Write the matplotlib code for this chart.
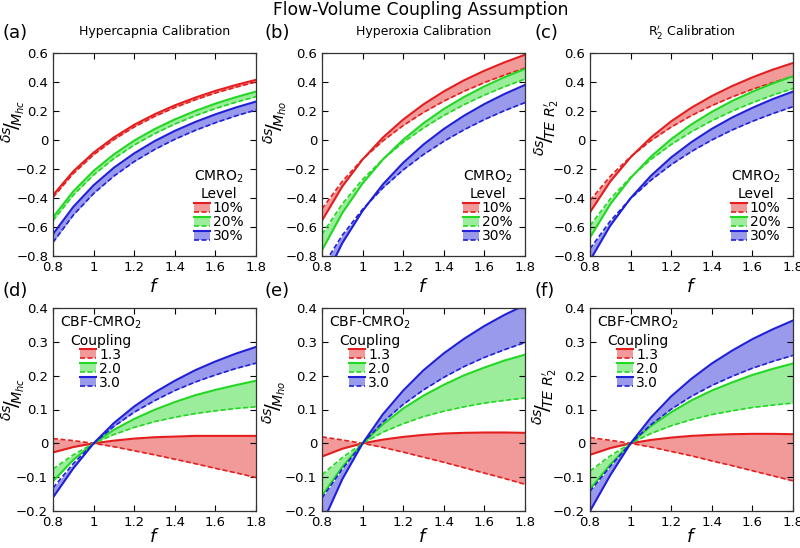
import matplotlib
matplotlib.use("Agg")
import matplotlib.pyplot as plt
from matplotlib.ticker import FuncFormatter, MultipleLocator
from matplotlib.legend_handler import HandlerBase
from matplotlib.patches import Rectangle
from matplotlib.lines import Line2D

plt.rcParams['font.family'] = ['DejaVu Sans']
plt.rcParams['mathtext.fontset'] = 'dejavusans'

# ---------------- data ----------------
f_vals = [0.8, 0.9, 1.0, 1.1, 1.2, 1.3, 1.4, 1.5, 1.6, 1.7, 1.8]

# (a) Hypercapnia calibration, CMRO2 level 10/20/30 %
a_red_solid = [-0.380, -0.216, -0.087, 0.018, 0.105, 0.177, 0.239, 0.292, 0.339, 0.379, 0.415]
a_red_dash = [-0.395, -0.231, -0.102, 0.003, 0.090, 0.162, 0.224, 0.277, 0.324, 0.364, 0.400]
a_green_solid = [-0.533, -0.354, -0.213, -0.099, -0.004, 0.075, 0.142, 0.200, 0.251, 0.295, 0.334]
a_green_dash = [-0.556, -0.380, -0.241, -0.128, -0.035, 0.043, 0.110, 0.167, 0.217, 0.260, 0.299]
a_blue_solid = [-0.649, -0.461, -0.312, -0.191, -0.092, -0.008, 0.063, 0.124, 0.177, 0.224, 0.265]
a_blue_dash = [-0.706, -0.518, -0.369, -0.249, -0.149, -0.066, 0.005, 0.066, 0.119, 0.166, 0.207]

# (b) Hyperoxia calibration
b_red_solid = [-0.556, -0.320, -0.134, 0.017, 0.141, 0.246, 0.335, 0.412, 0.478, 0.536, 0.588]
b_red_dash = [-0.475, -0.285, -0.132, -0.006, 0.100, 0.190, 0.268, 0.336, 0.396, 0.449, 0.496]
b_green_solid = [-0.760, -0.503, -0.299, -0.134, 0.002, 0.116, 0.214, 0.297, 0.370, 0.434, 0.490]
b_green_dash = [-0.650, -0.441, -0.272, -0.133, -0.016, 0.083, 0.169, 0.244, 0.310, 0.368, 0.420]
b_blue_solid = [-0.995, -0.711, -0.488, -0.306, -0.157, -0.031, 0.076, 0.168, 0.248, 0.318, 0.380]
b_blue_dash = [-0.879, -0.657, -0.478, -0.330, -0.206, -0.100, -0.009, 0.071, 0.141, 0.203, 0.258]

# (c) R2' calibration
c_red_solid = [-0.498, -0.286, -0.119, 0.017, 0.129, 0.223, 0.303, 0.372, 0.432, 0.485, 0.531]
c_red_dash = [-0.417, -0.250, -0.115, -0.004, 0.089, 0.169, 0.237, 0.297, 0.350, 0.396, 0.438]
c_green_solid = [-0.672, -0.443, -0.262, -0.115, 0.006, 0.108, 0.194, 0.269, 0.333, 0.390, 0.440]
c_green_dash = [-0.591, -0.406, -0.257, -0.134, -0.031, 0.057, 0.133, 0.199, 0.257, 0.309, 0.355]
c_blue_solid = [-0.830, -0.590, -0.401, -0.247, -0.120, -0.014, 0.077, 0.155, 0.222, 0.282, 0.334]
c_blue_dash = [-0.750, -0.559, -0.404, -0.277, -0.170, -0.079, 0.000, 0.069, 0.129, 0.182, 0.230]

# (d) Hypercapnia, CBF-CMRO2 coupling 1.3 / 2.0 / 3.0
d_red_solid = [-0.027, -0.011, 0.000, 0.008, 0.014, 0.018, 0.020, 0.022, 0.022, 0.022, 0.022]
d_red_dash = [0.014, 0.008, 0.000, -0.010, -0.022, -0.034, -0.047, -0.060, -0.074, -0.087, -0.101]
d_green_solid = [-0.112, -0.049, 0.000, 0.040, 0.072, 0.099, 0.122, 0.142, 0.158, 0.172, 0.185]
d_green_dash = [-0.076, -0.034, 0.000, 0.026, 0.047, 0.064, 0.077, 0.088, 0.096, 0.103, 0.108]
d_blue_solid = [-0.160, -0.074, 0.000, 0.060, 0.109, 0.150, 0.185, 0.216, 0.242, 0.265, 0.285]
d_blue_dash = [-0.132, -0.060, 0.000, 0.050, 0.092, 0.126, 0.156, 0.181, 0.202, 0.221, 0.237]

# (e) Hyperoxia
e_red_solid = [-0.039, -0.016, 0.000, 0.011, 0.019, 0.025, 0.029, 0.031, 0.032, 0.032, 0.031]
e_red_dash = [0.019, 0.010, 0.000, -0.012, -0.026, -0.041, -0.056, -0.072, -0.088, -0.104, -0.121]
e_green_solid = [-0.155, -0.070, 0.000, 0.056, 0.103, 0.141, 0.173, 0.201, 0.224, 0.245, 0.262]
e_green_dash = [-0.093, -0.042, 0.000, 0.033, 0.058, 0.079, 0.095, 0.108, 0.119, 0.127, 0.134]
e_blue_solid = [-0.239, -0.106, 0.000, 0.086, 0.156, 0.216, 0.266, 0.309, 0.347, 0.380, 0.409]
e_blue_dash = [-0.162, -0.076, 0.000, 0.063, 0.115, 0.158, 0.195, 0.227, 0.254, 0.277, 0.298]

# (f) R2'
f_red_solid = [-0.034, -0.014, 0.000, 0.010, 0.017, 0.022, 0.025, 0.027, 0.028, 0.028, 0.027]
f_red_dash = [0.017, 0.009, 0.000, -0.011, -0.024, -0.037, -0.052, -0.066, -0.081, -0.096, -0.111]
f_green_solid = [-0.135, -0.063, 0.000, 0.051, 0.092, 0.127, 0.156, 0.180, 0.202, 0.220, 0.236]
f_green_dash = [-0.082, -0.037, 0.000, 0.029, 0.052, 0.070, 0.085, 0.096, 0.106, 0.113, 0.119]
f_blue_solid = [-0.200, -0.094, 0.000, 0.076, 0.139, 0.191, 0.236, 0.274, 0.308, 0.337, 0.363]
f_blue_dash = [-0.142, -0.068, 0.000, 0.055, 0.101, 0.139, 0.171, 0.198, 0.222, 0.242, 0.260]

top_labels = ['10%', '20%', '30%']
bottom_labels = ['1.3', '2.0', '3.0']
panel_titles = ['Hypercapnia Calibration', 'Hyperoxia Calibration',
                r'$\mathrm{R}_2^{\prime}$ Calibration']
panel_letters = ['(a)', '(b)', '(c)', '(d)', '(e)', '(f)']
ylabels = [r'${}^{\delta s}\!/\!{}_{M_{hc}}$', r'${}^{\delta s}\!/\!{}_{M_{ho}}$',
           r'${}^{\delta s}\!/\!{}_{TE\ R_2^{\prime}}$']

colors = ['#e41e1e', '#22d822', '#2020d8']

panels = [
    [(a_red_solid, a_red_dash), (a_green_solid, a_green_dash), (a_blue_solid, a_blue_dash)],
    [(b_red_solid, b_red_dash), (b_green_solid, b_green_dash), (b_blue_solid, b_blue_dash)],
    [(c_red_solid, c_red_dash), (c_green_solid, c_green_dash), (c_blue_solid, c_blue_dash)],
    [(d_red_solid, d_red_dash), (d_green_solid, d_green_dash), (d_blue_solid, d_blue_dash)],
    [(e_red_solid, e_red_dash), (e_green_solid, e_green_dash), (e_blue_solid, e_blue_dash)],
    [(f_red_solid, f_red_dash), (f_green_solid, f_green_dash), (f_blue_solid, f_blue_dash)],
]


class Band:
    def __init__(self, color):
        self.color = color


class BandHandler(HandlerBase):
    def create_artists(self, legend, orig_handle, xdescent, ydescent,
                       width, height, fontsize, trans):
        x0, y0 = -xdescent, -ydescent
        c = orig_handle.color
        r = Rectangle((x0, y0), width, height, facecolor=c, alpha=0.45,
                      edgecolor='none', transform=trans)
        top = Line2D([x0, x0 + width], [y0 + height] * 2, color=c, lw=1.5,
                     transform=trans)
        bot = Line2D([x0, x0 + width], [y0] * 2, color=c, lw=1.2,
                     ls=(0, (3, 1.5)), transform=trans)
        return [r, top, bot]


def fmt(v, pos):
    s = '%g' % round(v, 3)
    if s == '-0':
        s = '0'
    return s.replace('-', '\u2212')


W, H = 800, 548
fig = plt.figure(figsize=(8, 5.48), dpi=100)
lefts = [53, 322, 590]
tops = [53, 308]
aw, ah = 203, 203

letter_pos = [(2, 33), (265, 33), (535, 33), (2, 291), (265, 291), (535, 291)]
ylab_pos = [(13, 122), (275, 122), (547, 128), (13, 400), (274, 402), (545, 397)]

for i in range(6):
    row, col = divmod(i, 3)
    l, t = lefts[col], tops[row]
    ax = fig.add_axes([l / W, 1 - (t + ah) / H, aw / W, ah / H])
    for (solid, dash), c in zip(panels[i], colors):
        ax.fill_between(f_vals, solid, dash, color=c, alpha=0.45, lw=0)
    for (solid, dash), c in zip(panels[i], colors):
        ax.plot(f_vals, solid, color=c, lw=1.5)
        ax.plot(f_vals, dash, color=c, lw=1.2, ls=(0, (3, 1.5)))
    ax.set_xlim(0.8, 1.8)
    ax.xaxis.set_major_locator(MultipleLocator(0.2))
    if row == 0:
        ax.set_ylim(-0.8, 0.6)
        ax.yaxis.set_major_locator(MultipleLocator(0.2))
    else:
        ax.set_ylim(-0.2, 0.4)
        ax.yaxis.set_major_locator(MultipleLocator(0.1))
    ax.xaxis.set_major_formatter(FuncFormatter(fmt))
    ax.yaxis.set_major_formatter(FuncFormatter(fmt))
    ax.tick_params(direction='in', top=True, right=True, length=4, width=0.8,
                   labelsize=9.5, pad=3.5)
    for sp in ax.spines.values():
        sp.set_linewidth(0.9)
        sp.set_color('#333333')
    fy = -31 / ah if row == 0 else -26 / ah
    ax.text(0.5, fy, '$f$', transform=ax.transAxes, ha='center',
            va='center', fontsize=13)
    if row == 0:
        ax.text(0.5, 1 + 21 / ah, panel_titles[col], transform=ax.transAxes,
                ha='center', va='center', fontsize=9)
        labels = top_labels
        title = 'CMRO$_2$\nLevel'
        loc = 'lower right'
        bap = 0.7
    else:
        labels = bottom_labels
        title = 'CBF-CMRO$_2$\nCoupling'
        loc = 'upper left'
        bap = 0.3
    handles = [Band(c) for c in colors]
    leg = ax.legend(handles, labels, handler_map={Band: BandHandler()},
                    title=title, loc=loc, frameon=False, fontsize=10,
                    title_fontsize=10, handlelength=1.15, handleheight=0.55,
                    handletextpad=0.2, labelspacing=0.0, borderpad=0.2,
                    borderaxespad=bap)
    leg.get_title().set_multialignment('center')
    lx, ly = letter_pos[i]
    fig.text(lx / W, 1 - ly / H, panel_letters[i], fontsize=13, ha='left',
             va='center')
    yx, yy = ylab_pos[i]
    fig.text(yx / W, 1 - yy / H, ylabels[col], fontsize=14.5, rotation=90,
             ha='center', va='center')

fig.text(421 / W, 1 - 10 / H, 'Flow-Volume Coupling Assumption', ha='center',
         va='center', fontsize=12.3)

fig.savefig('out.png', dpi=100)
